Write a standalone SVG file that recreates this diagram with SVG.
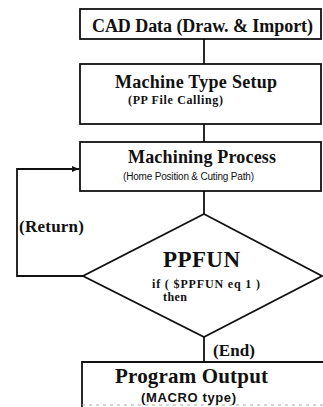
<svg xmlns="http://www.w3.org/2000/svg" width="323" height="407" viewBox="0 0 323 407">
<style>
.box{fill:#fff;stroke:#111;stroke-width:1.8}
.ln{fill:none;stroke:#111;stroke-width:1.8}
.t{font-family:"Liberation Serif","Times New Roman",serif;font-weight:bold;fill:#111}
.s{font-family:"Liberation Sans",Arial,sans-serif;fill:#111}
</style>
<defs>
<marker id="arr" markerWidth="8" markerHeight="8" refX="7" refY="4" orient="auto" markerUnits="userSpaceOnUse">
<path d="M0,1 L7,4 L0,7 Z" fill="#111"/>
</marker>
</defs>
<rect width="323" height="407" fill="#fff"/>
<g id="connectors">
<line class="ln" x1="204" y1="39" x2="204" y2="64"/>
<line class="ln" x1="204" y1="124" x2="204" y2="142"/>
<line class="ln" x1="204" y1="191" x2="204" y2="214"/>
<line class="ln" x1="204" y1="337" x2="204" y2="362"/>
<polyline class="ln" points="83,276 17,276 17,169 79,169" marker-end="url(#arr)"/>
<text class="t" x="19" y="232" font-size="17" textLength="65">(Return)</text>
<text class="t" x="213" y="356" font-size="17" textLength="42">(End)</text>
</g>
<g id="cad">
<rect class="box" x="80" y="9" width="241" height="30"/>
<text class="t" x="202.5" y="32" font-size="18" text-anchor="middle" textLength="221">CAD Data (Draw. &amp; Import)</text>
</g>
<g id="machine-type">
<rect class="box" x="80" y="64" width="241" height="60"/>
<text class="t" x="196" y="88" font-size="18" text-anchor="middle" textLength="162">Machine Type Setup</text>
<text class="t" x="175.5" y="104" font-size="12" text-anchor="middle" textLength="95">(PP File Calling)</text>
</g>
<g id="machining">
<rect class="box" x="80" y="142" width="241" height="49"/>
<text class="t" x="202" y="163" font-size="18" text-anchor="middle" textLength="148">Machining Process</text>
<text class="s" x="188.5" y="180" font-size="10" text-anchor="middle" textLength="131">(Home Position &amp; Cuting Path)</text>
</g>
<g id="ppfun">
<polygon class="box" points="204,214 322,276 204,337 83,276"/>
<text class="t" x="201.5" y="267" font-size="23" text-anchor="middle" textLength="77">PPFUN</text>
<text class="t" x="206" y="288" font-size="12" text-anchor="middle" textLength="108">if ( $PPFUN eq 1 )</text>
<text class="t" x="175" y="301" font-size="12" text-anchor="middle" textLength="24">then</text>
</g>
<g id="output">
<polyline class="ln" points="82,407 82,362 323,362"/>
<line x1="82" y1="405" x2="323" y2="405" stroke="#aaa" stroke-width="1" stroke-dasharray="3,4"/>
<text class="t" x="191.5" y="383" font-size="21" text-anchor="middle" textLength="153">Program Output</text>
<text class="s" x="188.5" y="402" font-size="13" font-weight="bold" text-anchor="middle" textLength="95">(MACRO type)</text>
</g>
</svg>
